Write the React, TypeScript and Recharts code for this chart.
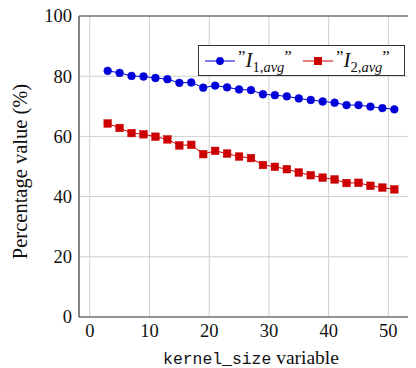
import React from 'react';
import { LineChart, Line, XAxis, YAxis, CartesianGrid, ReferenceLine, Legend } from 'recharts';

const kernelSizes = [3, 5, 7, 9, 11, 13, 15, 17, 19, 21, 23, 25, 27, 29, 31, 33, 35, 37, 39, 41, 43, 45, 47, 49, 51];
const i1Avg = [81.8, 81.1, 80.1, 79.9, 79.4, 79.0, 77.8, 77.9, 76.2, 76.9, 76.3, 75.6, 75.4, 74.0, 73.7, 73.3, 72.6, 72.1, 71.6, 71.2, 70.4, 70.4, 69.9, 69.4, 69.0];
const i2Avg = [64.3, 62.8, 61.1, 60.7, 59.9, 59.0, 57.0, 57.2, 54.1, 55.2, 54.3, 53.3, 52.8, 50.5, 49.9, 49.1, 48.0, 47.1, 46.3, 45.7, 44.5, 44.6, 43.6, 43.0, 42.4];
const xTicks = [0, 10, 20, 30, 40, 50];
const yTicks = [0, 20, 40, 60, 80, 100];
const legendIdx = ['1', '2'];

const data = kernelSizes.map((k, i) => ({ k, i1: i1Avg[i], i2: i2Avg[i] }));

const BLUE = '#0000d8';
const RED = '#cc0000';
const SERIF = 'Liberation Serif';
const MONO = 'Liberation Mono';

const XTick = (props: any) => (
  <text x={props.x} y={props.y + 20} textAnchor="middle" style={{ fontFamily: SERIF, fontSize: 18.5 }} fill="#111">
    {props.payload.value}
  </text>
);
const YTick = (props: any) => (
  <text x={props.x} y={props.y} dy="0.35em" textAnchor="end" style={{ fontFamily: SERIF, fontSize: 18.5 }} fill="#111">
    {props.payload.value}
  </text>
);

const SquareDot = (props: any) => {
  const { cx, cy, key } = props;
  if (cx == null || cy == null) return null;
  return <rect key={key} x={cx - 3.8} y={cy - 3.8} width={7.6} height={7.6} fill={RED} stroke={RED} strokeWidth={0.5} />;
};
const CircleDot = (props: any) => {
  const { cx, cy, key } = props;
  if (cx == null || cy == null) return null;
  return <circle key={key} cx={cx} cy={cy} r={3.9} fill={BLUE} stroke={BLUE} strokeWidth={0.5} />;
};

const LegendItem = ({ color, square, idx }: { color: string; square: boolean; idx: string }) => (
  <div style={{ display: 'flex', alignItems: 'center', width: 98 }}>
    <svg width={30} height={12} style={{ display: 'block' }}>
      <line x1={0} y1={6} x2={30} y2={6} stroke={color} strokeWidth={1} />
      {square ? (
        <rect x={11} y={2} width={8} height={8} fill={color} />
      ) : (
        <circle cx={15} cy={6} r={3.9} fill={color} />
      )}
    </svg>
    <span style={{ fontFamily: SERIF, fontSize: 21, marginLeft: 3, whiteSpace: 'nowrap', color: '#111', lineHeight: '22px' }}>
      <span style={{ fontSize: 17, position: 'relative', top: -5 }}>”</span>
      <i>I</i>
      <span style={{ fontSize: 14.5, position: 'relative', top: 5 }}>
        {idx},<i>avg</i>
      </span>
      <span style={{ fontSize: 17, position: 'relative', top: -5 }}>”</span>
    </span>
  </div>
);

const LegendBox = () => (
  <div
    style={{
      border: '1.2px solid #333',
      background: '#fff',
      display: 'flex',
      alignItems: 'center',
      height: 31,
      width: 207,
      boxSizing: 'border-box',
      paddingLeft: 6,
    }}
  >
    <LegendItem color={BLUE} square={false} idx={legendIdx[0]} />
    <LegendItem color={RED} square={true} idx={legendIdx[1]} />
  </div>
);

export default function App() {
  return (
    <div style={{ margin: '-8px 0 0 -8px', width: 416, height: 368, overflow: 'hidden', background: '#fff', position: 'relative' }}>
      <LineChart width={430} height={368} data={data} margin={{ top: 16, right: 7, left: 0, bottom: 0 }}>
        <CartesianGrid stroke="#cfcfcf" strokeWidth={1} />
        <XAxis
          dataKey="k"
          type="number"
          domain={[-1.8, 55.8]}
          ticks={xTicks}
          allowDataOverflow
          height={51}
          tickSize={0}
          tickMargin={0}
          tickLine={false}
          axisLine={{ stroke: '#444', strokeWidth: 1.2 }}
          tick={<XTick />}
          interval={0}
          label={{
            content: (p: any) => {
              const vb = p.viewBox;
              return (
                <text x={vb.x + vb.width / 2} y={vb.y + 47} textAnchor="middle" style={{ fontFamily: SERIF, fontSize: 19.5 }} fill="#111">
                  <tspan style={{ fontFamily: MONO, fontSize: 16.4 }}>kernel_size</tspan>
                  <tspan> variable</tspan>
                </text>
              );
            },
          }}
        />
        <YAxis
          type="number"
          domain={[0, 100]}
          ticks={yTicks}
          width={79}
          tickSize={0}
          tickMargin={7}
          tickLine={false}
          axisLine={{ stroke: '#444', strokeWidth: 1.2 }}
          tick={<YTick />}
          interval={0}
          label={{
            content: (p: any) => {
              const vb = p.viewBox;
              const cx = vb.x + 27;
              const cy = vb.y + vb.height / 2 + 5;
              return (
                <text x={cx} y={cy} textAnchor="middle" style={{ fontFamily: SERIF, fontSize: 20.5 }} fill="#111" transform={`rotate(-90 ${cx} ${cy})`}>
                  Percentage value (%)
                </text>
              );
            },
          }}
        />
        <ReferenceLine y={100} stroke="#444" strokeWidth={1.2} />
        <Line dataKey="i1" stroke={BLUE} strokeWidth={1} dot={<CircleDot />} isAnimationActive={false} />
        <Line dataKey="i2" stroke={RED} strokeWidth={1} dot={<SquareDot />} isAnimationActive={false} />
        <Legend
          layout="vertical"
          verticalAlign="middle"
          align="center"
          wrapperStyle={{ position: 'absolute', left: 198, top: 45, width: 207, height: 31 }}
          content={() => <LegendBox />}
        />
      </LineChart>
    </div>
  );
}
